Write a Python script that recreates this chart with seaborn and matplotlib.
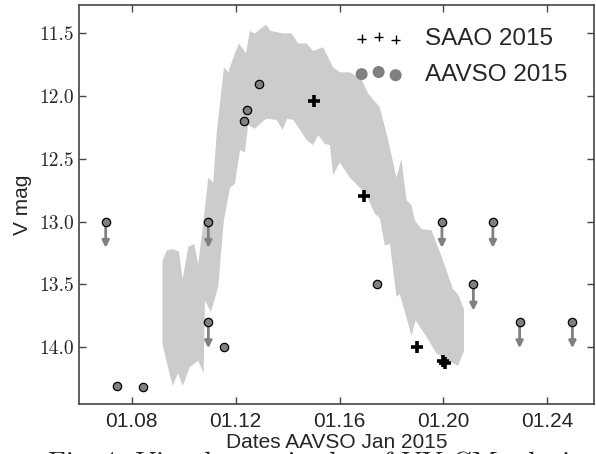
import numpy as np
import matplotlib
matplotlib.use("Agg")
import matplotlib.pyplot as plt
import seaborn as sns

# AAVSO points (detections)
aavso_x = [1.0745, 1.0842, 1.1156, 1.1231, 1.1242, 1.1289, 1.1744]
aavso_mag = [14.31, 14.32, 14.00, 12.20, 12.11, 11.90, 13.50]

# AAVSO upper limits (drawn with arrows)
lim_x = [1.0700, 1.1095, 1.1095, 1.1994, 1.2115, 1.2190, 1.2293, 1.2496]
lim_mag = [13.0, 13.0, 13.8, 13.0, 13.5, 13.0, 13.8, 13.8]

# SAAO points
saao_x = [1.1503, 1.1694, 1.1899, 1.1998, 1.2004]
saao_mag = [12.04, 12.80, 14.00, 14.11, 14.125]

# grey band: bright edge and faint edge
band_up_x = [1.0918, 1.0935, 1.0960, 1.0982, 1.0996, 1.1018, 1.1041, 1.1056, 1.1073,
             1.1095, 1.1114, 1.1127, 1.1155, 1.1172, 1.1197, 1.1213, 1.1240, 1.1255,
             1.1274, 1.1317, 1.1335, 1.1383, 1.1415, 1.1441, 1.1473, 1.1498, 1.1537,
             1.1575, 1.1601, 1.1640, 1.1685, 1.1710, 1.1755, 1.1787, 1.1819, 1.1838,
             1.1858, 1.1877, 1.1890, 1.1915, 1.1954, 1.1998, 1.2037, 1.2056, 1.2079]
band_up_mag = [13.32, 13.23, 13.22, 13.24, 13.46, 13.20, 13.18, 13.34, 13.05,
               12.65, 12.69, 12.30, 11.77, 11.81, 11.66, 11.58, 11.66, 11.48,
               11.50, 11.43, 11.48, 11.50, 11.50, 11.58, 11.58, 11.64, 11.61,
               11.77, 11.81, 11.81, 11.87, 11.98, 12.09, 12.35, 12.65, 12.50,
               12.83, 12.87, 12.99, 13.06, 13.07, 13.31, 13.54, 13.58, 13.70]
band_lo_x = [1.0918, 1.0936, 1.0958, 1.0978, 1.0997, 1.1024, 1.1056, 1.1077, 1.1082,
             1.1105, 1.1133, 1.1155, 1.1178, 1.1197, 1.1217, 1.1236, 1.1248, 1.1274,
             1.1300, 1.1319, 1.1358, 1.1381, 1.1398, 1.1422, 1.1445, 1.1473, 1.1498,
             1.1518, 1.1543, 1.1563, 1.1575, 1.1601, 1.1640, 1.1678, 1.1704, 1.1736,
             1.1755, 1.1774, 1.1794, 1.1819, 1.1832, 1.1877, 1.1893, 1.1935, 1.1973,
             1.2018, 1.2056, 1.2079]
band_lo_mag = [13.97, 14.13, 14.31, 14.21, 14.31, 14.16, 14.11, 14.21, 13.63,
               13.72, 13.52, 12.99, 12.73, 12.70, 12.43, 12.45, 12.23, 12.26,
               12.21, 12.18, 12.19, 12.27, 12.18, 12.19, 12.26, 12.35, 12.39,
               12.31, 12.38, 12.39, 12.63, 12.53, 12.65, 12.73, 12.79, 12.94,
               12.97, 13.19, 13.18, 13.60, 13.58, 13.91, 13.79, 13.92, 14.05,
               14.11, 14.15, 14.03]

xticks = [1.08, 1.12, 1.16, 1.20, 1.24]
xticklabels = ["01.08", "01.12", "01.16", "01.20", "01.24"]
yticks = [11.5, 12.0, 12.5, 13.0, 13.5, 14.0]

sns.set_style("ticks")
plt.rcParams["font.family"] = ["Liberation Sans", "DejaVu Sans"]

fig = plt.figure(figsize=(5.96, 4.54), dpi=100)
ax = fig.add_axes([0.132, 0.110, 0.865, 0.878])

# band
ax.fill(np.r_[band_up_x, band_lo_x[::-1]], np.r_[band_up_mag, band_lo_mag[::-1]],
        color="#cccccc", lw=0, zorder=1)

# arrows for upper limits
for xx, mm in zip(lim_x, lim_mag):
    ax.annotate("", xy=(xx, mm + 0.21), xytext=(xx, mm),
                arrowprops=dict(arrowstyle="-|>,head_length=0.4,head_width=0.2",
                                color="#808080", lw=2, shrinkA=0, shrinkB=0),
                zorder=2)

sns.scatterplot(x=aavso_x + lim_x, y=aavso_mag + lim_mag, ax=ax, color="#808080",
                edgecolor="black", linewidth=0.9, s=36, zorder=3, legend=False)
ax.scatter(saao_x, saao_mag, marker="+", color="black", s=70, linewidths=2.6, zorder=4)

# legend proxies
h1 = ax.scatter([], [], marker="+", color="black", s=40, linewidths=1.0, label="SAAO 2015")
h2 = ax.scatter([], [], marker="o", color="#808080", s=75, linewidths=0, label="AAVSO 2015")
ax.legend(handles=[h1, h2], loc="upper right", bbox_to_anchor=(0.99, 0.998),
          frameon=False, fontsize=17.5, scatterpoints=3, handlelength=2.0,
          handletextpad=0.9, labelspacing=0.55)

ax.set_xlim(1.0596, 1.258)
ax.set_ylim(14.455, 11.277)
ax.set_xticks(xticks)
ax.set_xticklabels(xticklabels, fontsize=15)
ax.set_yticks(yticks)
ax.set_yticklabels([f"{v:.1f}" for v in yticks], fontsize=14, fontfamily="cmr10")
ax.tick_params(direction="in", top=True, right=True, length=5, width=1, color="#444444")
ax.tick_params(axis="y", labelfontfamily="cmr10")
ax.tick_params(axis="x", pad=6)
for s in ax.spines.values():
    s.set_color("#444444")
    s.set_linewidth(1.2)

ax.set_xlabel("Dates AAVSO Jan 2015", fontsize=15, labelpad=1)
ax.set_ylabel("V mag", fontsize=15, labelpad=5)

fig.text(0.08, 0.006, "Fig. 1: Visual magnitudes of VY CMa during its",
         family="cmr10", fontsize=20, va="top", ha="left")

fig.savefig("out.png", dpi=100)
